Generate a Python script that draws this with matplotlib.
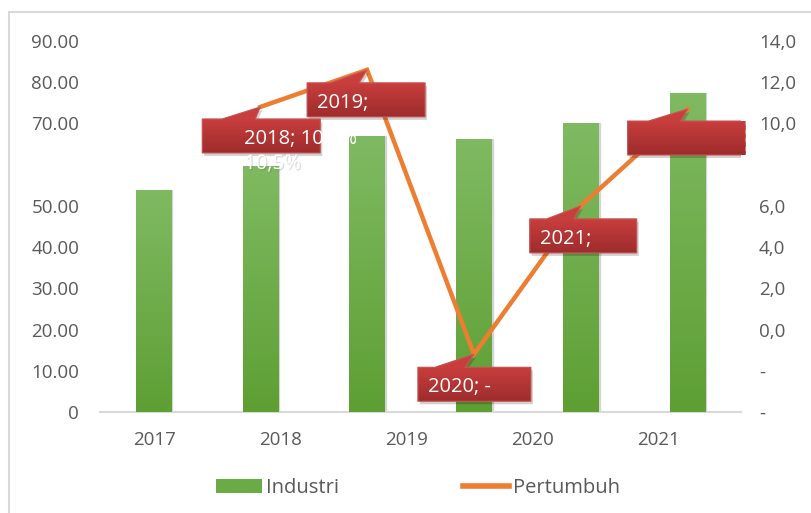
import matplotlib
matplotlib.use("Agg")
import matplotlib.pyplot as plt
import numpy as np
from matplotlib.patches import Polygon, Rectangle
from matplotlib.transforms import IdentityTransform
from matplotlib.lines import Line2D
import matplotlib.patheffects as pe

plt.rcParams['font.family'] = ['Open Sans', 'DejaVu Sans']

# Data
years = ["2017", "2018", "2019", "2020", "2021"]
industri = [53.9, 59.7, 67.0, 66.3, 70.2, 77.4]          # six bars, left axis
pertumbuh = [np.nan, 10.8, 12.6, -1.2, 6.0, 10.7]         # growth line, right axis
left_ticks = [0, 10, 20, 30, 40, 50, 70, 80, 90]
left_labels = ["0", "10.00", "20.00", "30.00", "40.00", "50.00", "70.00", "80.00", "90.00"]
right_ticks = [-4, -2, 0, 2, 4, 6, 10, 12, 14]
right_labels = ["-", "-", "0,0", "2,0", "4,0", "6,0", "10,0", "12,0", "14,0"]
# callouts: (point index, text lines)
callouts = [(1, ["2018; 10,5%", "10,5%"]), (2, ["2019;"]), (3, ["2020; -"]),
            (4, ["2021;"]), (5, [""])]

W, H = 811, 513
fig = plt.figure(figsize=(W / 100, H / 100), dpi=100)
fs = 13.5
tcol = "#595959"

# outer chart border
fig.patches.append(Rectangle((9 / W, -0.1), 1.1, 1.1 - 12 / H, transform=fig.transFigure,
                             fill=False, edgecolor="#d9d9d9", lw=1.5))

ax = fig.add_axes([100 / W, 101 / H, 641 / W, 371 / H])
x = np.arange(len(industri))
bw = 0.33
bars = ax.bar(x, industri, width=bw, color="#6aab45", zorder=2)
# vertical gradient on bars
grad = np.linspace(0, 1, 100).reshape(-1, 1)
cm = matplotlib.colors.LinearSegmentedColormap.from_list("g", ["#7fba62", "#5e9f34"])
for b in bars:
    im = ax.imshow(grad, extent=[b.get_x(), b.get_x() + bw, 0, b.get_height()],
                   aspect="auto", cmap=cm, zorder=3, origin="upper")
    im.set_clip_path(b)
    ax.add_patch(Rectangle((b.get_x() + bw, 0), 0.012, b.get_height(),
                           color="#bbbbbb", alpha=0.5, zorder=1))
ax.set_xlim(-0.5, len(industri) - 0.5)
ax.set_ylim(0, 90)
ax.set_yticks(left_ticks, left_labels)
for s in ["top", "left", "right"]:
    ax.spines[s].set_visible(False)
ax.spines["bottom"].set_color("#d9d9d9")
ax.spines["bottom"].set_linewidth(1.5)
ax.tick_params(axis="y", length=0, pad=15, labelsize=fs, labelcolor=tcol)
# year labels spaced on their own grid
ax.set_xticks(np.linspace(0.015, 4.73, len(years)), years)
ax.tick_params(axis="x", length=0, pad=14, labelsize=fs, labelcolor=tcol)

ax2 = ax.twinx()
ax2.plot(x, pertumbuh, color="#ed7d31", lw=3.2, zorder=4, solid_joinstyle="miter")
ax2.set_ylim(-4, 14)
ax2.set_yticks(right_ticks, right_labels)
for s in ax2.spines.values():
    s.set_visible(False)
ax2.tick_params(axis="y", length=0, pad=13, labelsize=fs, labelcolor=tcol)

# callout label boxes (offsets in pixels from the data point)
box = {1: (-58, 60, -12, -46, -38, -5),
       2: (-60, 58, -13, -47, -37, -8),
       3: (-56, 57, -13, -47, -39, -9),
       4: (-51, 56, -13, -47, -34, -7),
       5: (-60, 58, -12, -46, -39, -7)}
cmr = matplotlib.colors.LinearSegmentedColormap.from_list("r", ["#c73e3d", "#9e2b2b"])
fig.canvas.draw()
for idx, lines in callouts:
    px, py = ax2.transData.transform((x[idx], pertumbuh[idx]))
    l, r, t, b, bl, br = box[idx]
    verts = [(px + l, py + t), (px + bl, py + t), (px, py), (px + br, py + t),
             (px + r, py + t), (px + r, py + b), (px + l, py + b)]
    sh = Polygon([(vx + 2, vy - 3) for vx, vy in verts], closed=True, transform=IdentityTransform(),
                 facecolor="#000000", alpha=0.18, edgecolor="none", zorder=10)
    ax2.add_artist(sh)
    fill = Polygon(verts, closed=True, transform=IdentityTransform(), facecolor="#b33535",
                   edgecolor="none", zorder=11)
    ax2.add_artist(fill)
    n = 30
    ys = np.linspace(py + t, py + b, n + 1)
    for k in range(n):
        strip = Rectangle((px + l - 2, ys[k + 1]), r - l + 4, ys[k] - ys[k + 1] + 0.6,
                          transform=IdentityTransform(), facecolor=cmr(k / n),
                          edgecolor="none", zorder=11)
        strip.set_clip_path(fill)
        ax2.add_artist(strip)
    ax2.add_artist(Polygon(verts, closed=True, transform=IdentityTransform(), facecolor="none",
                           edgecolor="#c85656", lw=0.8, zorder=12))
    tri = Polygon([(px + bl, py + t), (px, py), (px + br, py + t)], closed=True,
                  transform=IdentityTransform(), facecolor="#c73e3d", edgecolor="none", zorder=11)
    ax2.add_artist(tri)
    for j, txt in enumerate(lines):
        tx = px + l + 42 if idx == 1 else px + l + 10
        eff = [pe.withSimplePatchShadow(offset=(1, -1), alpha=0.2)] if j == 1 else []
        ax2.text(tx, py + t - 20 - j * 25, txt, transform=IdentityTransform(), color="white",
                 fontsize=14.5, va="center", ha="left", zorder=13, clip_on=False,
                 path_effects=eff)

handles = [Rectangle((0, 0), 1, 1, facecolor="#6aab45"),
           Line2D([0], [0], color="#ed7d31", lw=4)]
fig.legend(handles, ["Industri", "Pertumbuh"], loc="center", ncol=2, frameon=False,
           bbox_to_anchor=(418 / W, 1 - 488 / H), fontsize=14.5, handlelength=2.25,
           handleheight=0.65, handletextpad=0.2, columnspacing=6.2, labelcolor=tcol)

fig.savefig("out.png", dpi=100)
